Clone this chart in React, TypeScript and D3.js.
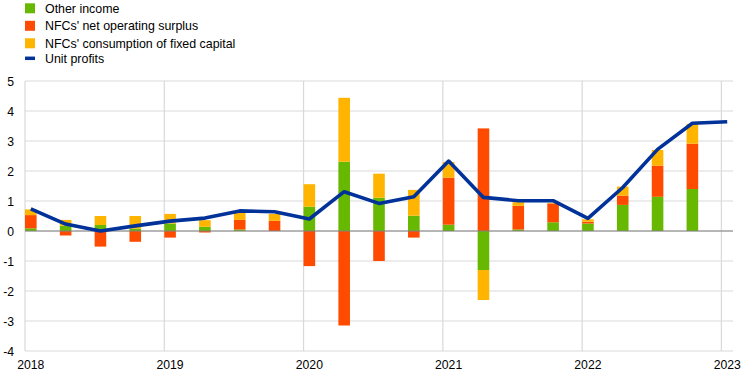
import React from "react";
import * as d3 from "d3";

const quarters = [
  "2018Q1","2018Q2","2018Q3","2018Q4","2019Q1","2019Q2","2019Q3","2019Q4",
  "2020Q1","2020Q2","2020Q3","2020Q4","2021Q1","2021Q2","2021Q3","2021Q4",
  "2022Q1","2022Q2","2022Q3","2022Q4","2023Q1",
];
const otherIncome = [0.09, 0.18, 0.2, 0.08, 0.25, 0.14, 0.05, 0, 0.81, 2.31, 1.11, 0.51, 0.21, -1.3, 0.05, 0.29, 0.25, 0.87, 1.14, 1.4];
const netOperatingSurplus = [0.44, -0.15, -0.52, -0.36, -0.22, -0.05, 0.32, 0.34, -1.17, -3.15, -1.0, -0.22, 1.57, 3.42, 0.79, 0.63, 0.06, 0.31, 1.04, 1.51];
const consumptionFixedCapital = [0.19, 0.19, 0.3, 0.42, 0.32, 0.22, 0.23, 0.23, 0.75, 2.13, 0.8, 0.86, 0.52, -1.0, 0.12, 0.02, 0.08, 0.3, 0.52, 0.66];
const unitProfits = [0.74, 0.23, 0.0, 0.17, 0.33, 0.43, 0.67, 0.64, 0.4, 1.31, 0.92, 1.14, 2.33, 1.12, 1.01, 1.01, 0.42, 1.45, 2.72, 3.59, 3.64];
const yearLabels = ["2018", "2019", "2020", "2021", "2022", "2023"];
const yTicks = [-4, -3, -2, -1, 0, 1, 2, 3, 4, 5];
const seriesNames = ["Other income", "NFCs' net operating surplus", "NFCs' consumption of fixed capital"];
const lineName = "Unit profits";
const colors = ["#66b800", "#ff4b00", "#ffb400"];
const lineColor = "#003299";

export default function App() {
  const W = 744, H = 378;
  const left = 25, right = 733, top = 81, bottom = 351;
  const x = d3.scaleLinear().domain([0, 20]).range([25, 721.4]);
  const y = d3.scaleLinear().domain([-4, 5]).range([bottom, top]);
  const barW = 11.6;
  const off = 5.8;

  const rows = otherIncome.map((_, i) => ({
    i,
    a: otherIncome[i],
    b: netOperatingSurplus[i],
    c: consumptionFixedCapital[i],
  }));
  const stack = d3.stack<any>().keys(["a", "b", "c"]).offset(d3.stackOffsetDiverging);
  const layers = stack(rows);

  const line = d3
    .line<number>()
    .x((_, i) => x(i) + off)
    .y((d) => y(d));

  const font = "Liberation Sans, Arial, sans-serif";

  return (
    <svg width={W} height={H} style={{ position: "absolute", left: 0, top: 0, background: "#fff" }} fontFamily={font}>
      {yTicks.map((t) => (
        <line key={"h" + t} x1={left} x2={right} y1={y(t)} y2={y(t)} stroke="#d9d9d9" strokeWidth={1.2} />
      ))}
      {yearLabels.map((_, k) => (
        <line key={"v" + k} x1={x(k * 4)} x2={x(k * 4)} y1={top} y2={bottom} stroke="#d9d9d9" strokeWidth={1.2} />
      ))}
      {layers.map((layer, li) =>
        layer.map((d, i) => {
          const y0 = y(Math.max(d[0], d[1]));
          const y1 = y(Math.min(d[0], d[1]));
          if (y1 - y0 < 0.01) return null;
          return (
            <rect key={li + "-" + i} x={x(i)} y={y0} width={barW} height={y1 - y0} fill={colors[li]} />
          );
        })
      )}
      <line x1={left} x2={right} y1={y(0)} y2={y(0)} stroke="#808080" strokeWidth={1.2} />
      <path d={line(unitProfits) || ""} fill="none" stroke={lineColor} strokeWidth={3.6} strokeLinejoin="round" />
      {yTicks.map((t) => (
        <text key={"yl" + t} x={14} y={y(t) + 4.5} textAnchor="end" fontSize={12.2} fill="#000">
          {t}
        </text>
      ))}
      {yearLabels.map((lab, k) => (
        <text key={"xl" + k} x={x(k * 4) + off} y={369} textAnchor="middle" fontSize={12.2} fill="#000">
          {lab}
        </text>
      ))}
      {seriesNames.map((n, k) => (
        <g key={"lg" + k}>
          <rect x={25} y={3.3 + k * 17.5} width={10} height={10} fill={colors[k]} />
          <text x={45} y={12.5 + k * 17.5} fontSize={12.4} fill="#000">
            {n}
          </text>
        </g>
      ))}
      <line x1={25} x2={35} y1={58.3} y2={58.3} stroke={lineColor} strokeWidth={3.5} />
      <text x={45} y={63} fontSize={12.4} fill="#000">
        {lineName}
      </text>
      <title>{quarters.join(",")}</title>
    </svg>
  );
}
